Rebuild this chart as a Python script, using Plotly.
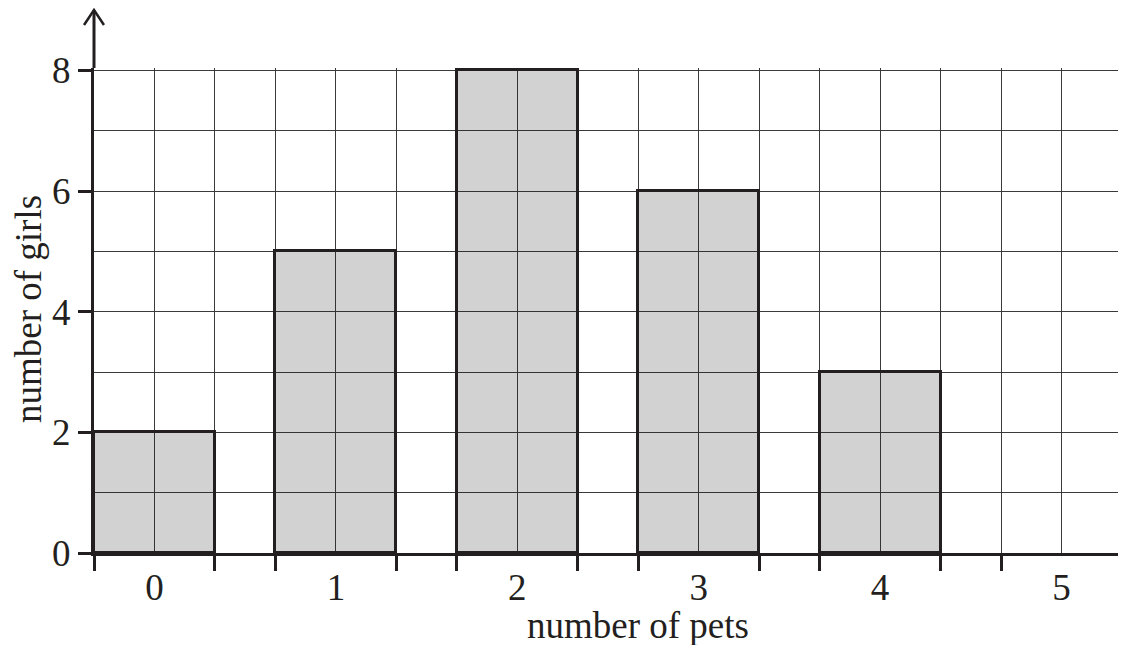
import plotly.graph_objects as go

# ---- data ----
pets = ["0", "1", "2", "3", "4", "5"]
girls = [2, 5, 8, 6, 3, 0]

# each category occupies 3 grid columns: 2 for the bar and 1 gap
col_per_cat = 3
bar_width = 2
centers = [1 + col_per_cat * i for i in range(len(pets))]
n_cols = col_per_cat * len(pets) - 1  # 17 columns in the grid
edges = sorted({c - bar_width / 2 for c in centers} | {c + bar_width / 2 for c in centers})

ink = "#231f20"
font_family = "Liberation Serif"
fs = 37

fig = go.Figure()
fig.add_trace(go.Bar(
    x=centers,
    y=girls,
    width=bar_width,
    marker=dict(color="rgba(35,31,32,0.2)",
                line=dict(color=ink, width=[3 if v > 0 else 0 for v in girls])),
    hoverinfo="skip",
))

tick_text = []
for v in range(n_cols + 1):
    tick_text.append(pets[centers.index(v)] if v in centers else "")

# the page body has an 8px margin, so the figure is 8px smaller and margins shifted
fig.update_layout(
    width=1118, height=637,
    margin=dict(l=86, r=4, t=60, b=92, autoexpand=False),
    paper_bgcolor="white", plot_bgcolor="white",
    showlegend=False,
    font=dict(family=font_family, color=ink, size=fs),
    xaxis=dict(
        range=[0, n_cols],
        tickmode="array",
        tickvals=list(range(n_cols + 1)),
        ticktext=tick_text,
        ticks="",
        showgrid=True, gridcolor="#3a3a3a", gridwidth=1,
        zeroline=False,
        showline=True, linecolor=ink, linewidth=3,
        tickfont=dict(size=fs, family=font_family, color=ink),
        ticklabelstandoff=0,
        minor=dict(tickmode="array", tickvals=edges, ticks="outside",
                   ticklen=15, tickwidth=3, tickcolor=ink, showgrid=False),
        automargin=False,
        fixedrange=True,
    ),
    yaxis=dict(
        range=[0, 8.04],
        tickmode="array",
        tickvals=[0, 2, 4, 6, 8],
        ticks="outside", ticklen=13, tickwidth=3, tickcolor=ink,
        showgrid=True, gridcolor="#3a3a3a", gridwidth=1,
        zeroline=False,
        showline=True, linecolor=ink, linewidth=3,
        tickfont=dict(size=fs, family=font_family, color=ink),
        minor=dict(dtick=1, showgrid=True, gridcolor="#3a3a3a", gridwidth=1, ticks=""),
        automargin=False,
        fixedrange=True,
    ),
    bargap=0,
)

# axis arrow extension above the plot
fig.add_shape(type="line", xref="paper", yref="paper", x0=0, x1=0, y0=1, y1=1.1196,
              line=dict(color=ink, width=3), layer="above")
fig.add_shape(type="path", xref="paper", yref="paper",
              path="M -0.0097,1.0887 L 0,1.1196 L 0.0097,1.0887",
              line=dict(color=ink, width=2.5), layer="above")

fig.add_annotation(text="number of pets", xref="paper", yref="paper",
                   x=0.529, y=-0.150, xanchor="center", yanchor="middle",
                   showarrow=False, font=dict(size=fs, family=font_family, color=ink))
fig.add_annotation(text="number of girls", xref="paper", yref="paper",
                   x=-0.0642, y=0.503, xanchor="center", yanchor="middle", textangle=-90,
                   showarrow=False, font=dict(size=fs, family=font_family, color=ink))

fig.write_html("out.html")
